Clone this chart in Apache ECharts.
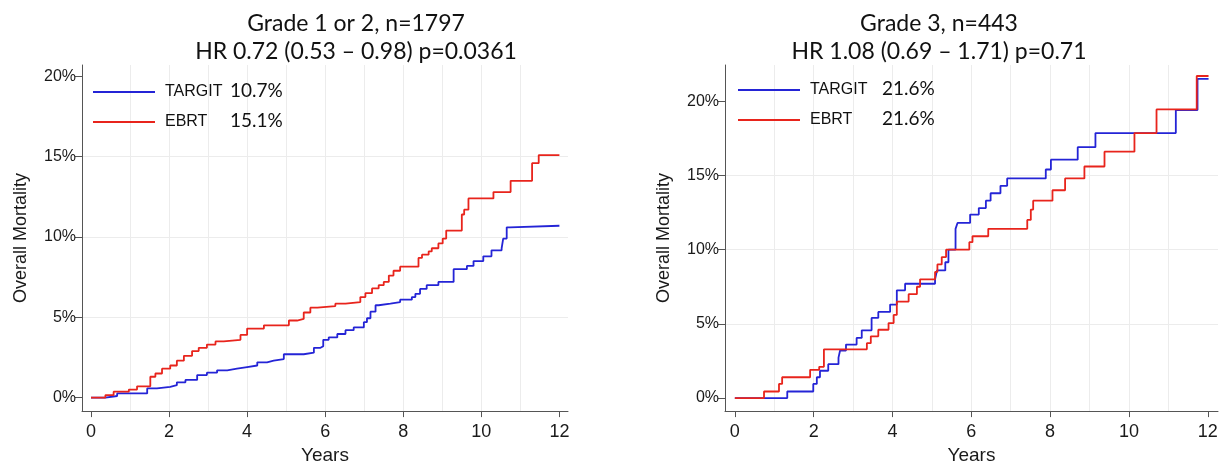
<!DOCTYPE html>
<html>
<head>
<meta charset="utf-8">
<script src="https://cdn.jsdelivr.net/npm/echarts@6/dist/echarts.min.js"></script>
<style>
  html, body { margin: 0; padding: 0; background: #fff; }
  #main { width: 1222px; height: 470px; }
</style>
</head>
<body>
<div id="main"></div>
<script>
// Grade 1 or 2 (left panel) - step times in years, cumulative mortality in %
let lowTargitYears = [0, 0.37, 0.67, 1.44, 1.69, 2.03, 2.2, 2.42, 2.72, 2.97, 3.23, 3.49, 3.74, 4.0, 4.26, 4.51, 4.68, 4.94, 5.45, 5.71, 5.88, 5.95, 6.09, 6.31, 6.52, 6.73, 6.99, 7.07, 7.16, 7.29, 7.37, 7.67, 7.92, 8.22, 8.31, 8.43, 8.6, 8.9, 9.29, 9.63, 9.8, 10.05, 10.26, 10.52, 10.56, 10.65, 10.73, 12.0];
let lowTargitPct   = [0, 0.1, 0.26, 0.57, 0.67, 0.77, 0.95, 1.1, 1.4, 1.55, 1.7, 1.8, 1.9, 2.0, 2.2, 2.3, 2.4, 2.7, 2.8, 3.1, 3.2, 3.6, 3.75, 3.96, 4.2, 4.37, 4.7, 4.94, 5.35, 5.75, 5.85, 5.95, 6.1, 6.26, 6.46, 6.77, 7.0, 7.2, 8.0, 8.2, 8.5, 8.8, 9.17, 9.3, 9.9, 10.6, 10.7, 10.7];
let lowEbrtYears = [0, 0.37, 0.58, 0.97, 1.18, 1.52, 1.65, 1.82, 2.03, 2.2, 2.38, 2.59, 2.76, 2.97, 3.19, 3.4, 3.83, 4.0, 4.43, 5.07, 5.28, 5.45, 5.62, 5.8, 6.26, 6.52, 6.9, 7.03, 7.2, 7.37, 7.5, 7.63, 7.75, 7.92, 8.39, 8.48, 8.65, 8.73, 8.9, 9.01, 9.1, 9.5, 9.56, 9.67, 10.31, 10.75, 11.3, 11.47, 12.0];
let lowEbrtPct   = [0, 0.16, 0.37, 0.5, 0.7, 1.3, 1.5, 1.8, 2.0, 2.3, 2.6, 2.9, 3.1, 3.3, 3.5, 3.6, 3.9, 4.3, 4.5, 4.8, 4.9, 5.3, 5.6, 5.7, 5.85, 5.95, 6.26, 6.5, 6.8, 7.0, 7.2, 7.6, 7.9, 8.15, 8.7, 8.9, 9.1, 9.3, 9.6, 9.9, 10.4, 11.4, 11.7, 12.4, 12.8, 13.5, 14.6, 15.1, 15.1];

// Grade 3 (right panel)
let g3TargitYears = [0, 1.33, 1.99, 2.08, 2.16, 2.37, 2.63, 2.67, 2.82, 3.09, 3.22, 3.47, 3.64, 3.94, 4.11, 4.32, 5.08, 5.13, 5.34, 5.42, 5.6, 5.65, 5.97, 6.19, 6.37, 6.49, 6.74, 6.91, 7.89, 8.02, 8.7, 9.15, 11.19, 11.74, 12.02];
let g3TargitPct   = [0, 0.44, 0.95, 1.4, 1.84, 2.28, 2.72, 3.2, 3.6, 4.05, 4.56, 5.4, 5.8, 6.3, 7.26, 7.7, 8.0, 8.6, 9.15, 10.0, 11.4, 11.8, 12.36, 12.8, 13.3, 13.8, 14.3, 14.8, 15.4, 16.06, 16.9, 17.85, 19.4, 21.5, 21.5];
let g3EbrtYears = [0, 0.74, 1.12, 1.2, 1.91, 2.14, 2.26, 3.35, 3.45, 3.64, 3.9, 4.03, 4.11, 4.41, 4.62, 4.7, 5.08, 5.14, 5.25, 5.36, 5.95, 6.03, 6.43, 7.42, 7.51, 7.57, 8.06, 8.38, 8.87, 9.38, 10.14, 10.7, 11.72, 12.02];
let g3EbrtPct   = [0, 0.44, 0.95, 1.4, 1.9, 2.1, 3.28, 3.7, 4.16, 4.6, 5.05, 5.6, 6.5, 7.0, 7.5, 8.0, 8.5, 9.0, 9.5, 10.0, 10.5, 10.9, 11.4, 12.0, 12.7, 13.3, 14.0, 14.8, 15.6, 16.6, 17.85, 19.45, 21.7, 21.7];

let yearTicks = [0, 2, 4, 6, 8, 10, 12];
let yearGrid = [0, 1, 2, 3, 4, 5, 6, 7, 8, 9, 10, 11, 12];
let pctTicks = [0, 5, 10, 15, 20];
let lowLegendPct = {TARGIT: '10.7%', EBRT: '15.1%'};
let g3LegendPct = {TARGIT: '21.6%', EBRT: '21.6%'};

let axisFont = '"Liberation Sans", Arial, sans-serif';
let titleFont = 'Lato, "Open Sans", sans-serif';
let blue = '#2424d6';
let red = '#e8241c';

function zip(xs, ys) {
    let out = [];
    for (let i = 0; i < xs.length; i++) out.push([xs[i], ys[i]]);
    return out;
}

function mainX(gridIndex, min, max) {
    return {
        type: 'value', gridIndex: gridIndex, min: min, max: max,
        name: 'Years', nameLocation: 'middle', nameGap: 34,
        nameTextStyle: {fontFamily: axisFont, fontSize: 19, color: '#1a1a1a'},
        axisLine: {show: true, onZero: false, lineStyle: {color: '#555', width: 1}},
        axisTick: {show: true, length: 6, customValues: yearTicks, lineStyle: {color: '#555'}},
        axisLabel: {show: true, margin: 12, customValues: yearTicks, fontFamily: axisFont, fontSize: 18, color: '#1a1a1a'},
        splitLine: {show: false}
    };
}
function gridX(gridIndex, min, max) {
    return {
        type: 'value', gridIndex: gridIndex, min: min, max: max, splitNumber: 12,
        axisLine: {show: false}, axisTick: {show: false, customValues: yearGrid}, axisLabel: {show: false},
        splitLine: {show: true, showMinLine: false, showMaxLine: false, lineStyle: {color: '#ececec', width: 1}}
    };
}
function mainY(gridIndex, min, max, gap) {
    return {
        type: 'value', gridIndex: gridIndex, min: min, max: max,
        name: 'Overall Mortality', nameLocation: 'middle', nameGap: gap,
        nameTextStyle: {fontFamily: axisFont, fontSize: 18, color: '#1a1a1a'},
        axisLine: {show: true, onZero: false, lineStyle: {color: '#555', width: 1}},
        axisTick: {show: true, length: 7, customValues: pctTicks, lineStyle: {color: '#555'}},
        axisLabel: {show: true, margin: 6, customValues: pctTicks, formatter: '{value}%', fontFamily: axisFont, fontSize: 16, color: '#1a1a1a'},
        splitLine: {show: true, showMinLine: false, showMaxLine: false, lineStyle: {color: '#ececec', width: 1}}
    };
}
function kmSeries(name, xIdx, yIdx, data, color) {
    return {
        name: name, type: 'line', step: 'end', xAxisIndex: xIdx, yAxisIndex: yIdx,
        symbol: 'none', data: data, animation: false,
        lineStyle: {color: color, width: 1.8}, itemStyle: {color: color}
    };
}
function kmLegend(left, top, nameWidth, pcts) {
    return {
        orient: 'vertical', left: left, top: top, itemWidth: 62, itemHeight: 2, itemGap: 8,
        icon: 'rect', data: ['TARGIT', 'EBRT'], selectedMode: false,
        formatter: function (name) { return '{n|' + name + '}{p|' + pcts[name] + '}'; },
        textStyle: {
            rich: {
                n: {fontFamily: axisFont, fontSize: 16, color: '#111', width: nameWidth, lineHeight: 20, padding: [0, 0, 0, 5]},
                p: {fontFamily: titleFont, fontSize: 19, color: '#111', lineHeight: 20, padding: [0, 0, 3, 0]}
            }
        }
    };
}

let chart = echarts.init(document.getElementById('main'));
let option = {
    backgroundColor: '#fff',
    animation: false,
    title: [
        {text: 'Grade 1 or 2, n=1797\nHR 0.72 (0.53 – 0.98) p=0.0361', left: 351, top: 5, textAlign: 'center',
         textStyle: {fontFamily: titleFont, fontSize: 23, fontWeight: 'normal', lineHeight: 28, color: '#111'}},
        {text: 'Grade 3, n=443\nHR 1.08 (0.69 – 1.71) p=0.71', left: 934, top: 5, textAlign: 'center',
         textStyle: {fontFamily: titleFont, fontSize: 23, fontWeight: 'normal', lineHeight: 28, color: '#111'}}
    ],
    legend: [kmLegend(88, 76, 65, lowLegendPct), kmLegend(733, 74, 72, g3LegendPct)],
    grid: [
        {left: 82, top: 65, width: 486, height: 353, containLabel: false},
        {left: 725, top: 65, width: 493, height: 351, containLabel: false}
    ],
    xAxis: [mainX(0, -0.23, 12.22), gridX(0, -0.23, 12.22), mainX(1, -0.25, 12.26), gridX(1, -0.25, 12.26)],
    yAxis: [mainY(0, -0.84, 20.71, 52), mainY(1, -0.88, 22.44, 52)],
    series: [
        kmSeries('TARGIT', 0, 0, zip(lowTargitYears, lowTargitPct), blue),
        kmSeries('EBRT', 0, 0, zip(lowEbrtYears, lowEbrtPct), red),
        kmSeries('TARGIT', 2, 1, zip(g3TargitYears, g3TargitPct), blue),
        kmSeries('EBRT', 2, 1, zip(g3EbrtYears, g3EbrtPct), red)
    ]
};
chart.setOption(option);
</script>
</body>
</html>
